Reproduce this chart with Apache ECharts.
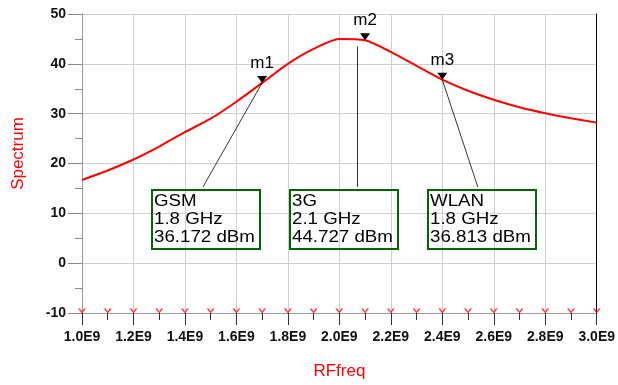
<!DOCTYPE html>
<html>
<head>
<meta charset="utf-8">
<script src="https://cdn.jsdelivr.net/npm/echarts@6/dist/echarts.min.js"></script>
<style>html,body{margin:0;padding:0;background:#fff}#c{width:618px;height:385px}</style>
</head>
<body>
<div id="c"></div>
<script>
// Data
var freqs = [1.0e9,1.1e9,1.2e9,1.3e9,1.4e9,1.5e9,1.6e9,1.7e9,1.8e9,1.9e9,2.0e9,2.1e9,2.2e9,2.3e9,2.4e9,2.5e9,2.6e9,2.7e9,2.8e9,2.9e9,3.0e9];
var spectrum = [16.7,18.6,20.8,23.4,26.3,29.0,32.4,36.172,40.0,43.0,45.0,44.727,42.4,39.6,36.813,34.6,32.8,31.3,30.1,29.1,28.2];
var sweepMarkerLevel = -10;
var markerNames = ['m1','m2','m3'];
var markerFreqs = [1.7e9, 2.1e9, 2.4e9];
var markerValues = [36.172, 44.727, 36.813];
var boxTitles = ['GSM','3G','WLAN'];
var boxFreqText = ['1.8 GHz','2.1 GHz','1.8 GHz'];
var boxLevelText = ['36.172 dBm','44.727 dBm','36.813 dBm'];
// leader line ends (data coords)
var leaderStart = [[1.7e9,36.172],[2.068e9,43.5],[2.4e9,36.813]];
var leaderEnd = [[1.47e9,15.3],[2.068e9,15.3],[2.538e9,15.3]];

var chart = echarts.init(document.getElementById('c'));
var curve = freqs.map(function(f,i){return [f, spectrum[i]];});
var sweep = freqs.map(function(f){return [f, sweepMarkerLevel];});

var fmtX = function(v){ return (v/1e9).toFixed(1) + 'E9'; };

var option = {
  animation: false,
  grid: {left: 82, right: 21, top: 14, bottom: 67},
  xAxis: {
    type: 'value', min: 1.0e9, max: 3.0e9, interval: 0.2e9,
    name: 'RFfreq', nameLocation: 'middle', nameGap: 50,
    nameTextStyle: {color: '#ff0000', fontSize: 17, fontFamily: 'Liberation Sans'},
    axisLine: {show: true, onZero: false, lineStyle: {color: '#999', width: 1}},
    axisTick: {show: true, length: 12, lineStyle: {color: '#333'}},
    minorTick: {show: true, splitNumber: 2, length: 7, lineStyle: {color: '#333'}},
    splitLine: {show: true, lineStyle: {color: '#d0d0d0', width: 1}},
    axisLabel: {formatter: fmtX, color: '#111', fontSize: 14, fontWeight: 'bold', fontFamily: 'Liberation Sans', margin: 17}
  },
  yAxis: [{
    type: 'value', min: -10, max: 50, interval: 10,
    name: 'Spectrum', nameLocation: 'middle', nameGap: 55, nameRotate: 90,
    nameTextStyle: {color: '#ff0000', fontSize: 17, fontFamily: 'Liberation Sans', padding: [0, 0, 0, 20]},
    axisLine: {show: true, lineStyle: {color: '#999', width: 1}},
    axisTick: {show: true, length: 14, lineStyle: {color: '#888'}},
    minorTick: {show: true, splitNumber: 2, length: 7, lineStyle: {color: '#888'}},
    splitLine: {show: true, lineStyle: {color: '#d0d0d0', width: 1}},
    axisLabel: {color: '#111', fontSize: 14, fontWeight: 'bold', fontFamily: 'Liberation Sans', margin: 16}
  },{
    type: 'value', min: -10, max: 50, interval: 10, position: 'right',
    axisLine: {show: true, lineStyle: {color: '#000', width: 1}},
    axisTick: {show: false}, axisLabel: {show: false}, splitLine: {show: false}
  }],
  series: [{
    type: 'line', data: curve, smooth: 0.25, symbol: 'none', clip: true,
    lineStyle: {color: '#ff0000', width: 2},
    z: 3,
    markPoint: {
      symbol: 'triangle', symbolRotate: 180, symbolSize: [10, 7], symbolOffset: [0, -3.5],
      itemStyle: {color: '#000'},
      label: {show: true, position: 'top', distance: 4, color: '#000', fontSize: 17, fontFamily: 'Liberation Sans', formatter: '{b}'},
      data: markerNames.map(function(n,i){ return {name: n, coord: [markerFreqs[i], markerValues[i]]}; })
    },
    markLine: {
      silent: true, symbol: ['none','none'], label: {show: false},
      lineStyle: {color: '#000', width: 0.8, type: 'solid'},
      data: leaderStart.map(function(s,i){ return [{coord: s}, {coord: leaderEnd[i]}]; })
    }
  },{
    type: 'scatter', data: sweep, z: 4,
    symbol: 'path://M0,0 L2,0 L4,3 L6,0 L8,0 L4,5 Z', symbolSize: [8, 5], symbolOffset: [0, -2],
    itemStyle: {color: '#ff0000'}
  }]
};
chart.setOption(option);

// annotation boxes
var boxLeft = [152, 290, 428], boxW = [108, 108, 108];
var g = [];
for (var i = 0; i < 3; i++) {
  g.push({type: 'rect', shape: {x: boxLeft[i], y: 190, width: boxW[i], height: 59},
    style: {fill: 'none', stroke: '#006400', lineWidth: 2}, z: 10});
  g.push({type: 'text', x: boxLeft[i] + 2, y: 192, scaleX: 1.17,
    style: {text: boxTitles[i] + '\n' + boxFreqText[i] + '\n' + boxLevelText[i],
      fill: '#000', fontSize: 16, fontFamily: 'Liberation Sans', lineHeight: 18.3}, z: 10});
}
chart.setOption({graphic: g});
</script>
</body>
</html>
